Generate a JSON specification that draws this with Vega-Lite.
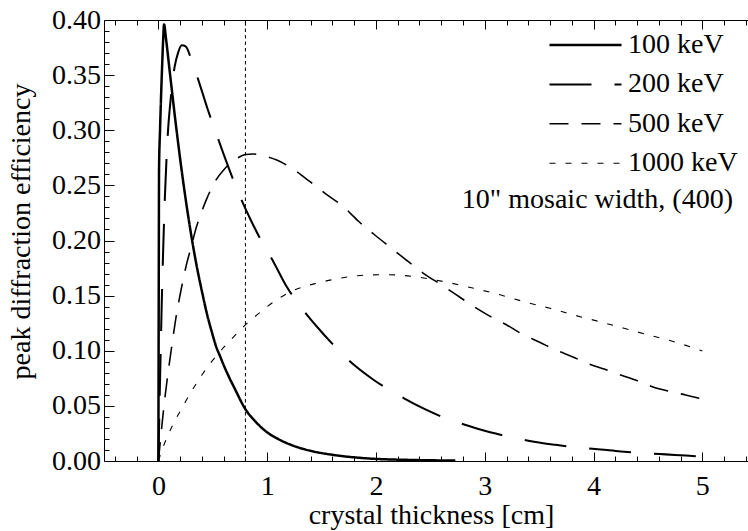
{
  "$schema": "https://vega.github.io/schema/vega-lite/v6.json",
  "width": 644,
  "height": 441,
  "autosize": {"type": "none"},
  "padding": {"left": 104, "top": 20, "right": 0, "bottom": 70},
  "background": "white",
  "config": {
    "view": {"stroke": null},
    "font": "Liberation Serif",
    "axis": {
      "grid": false,
      "domainColor": "#000",
      "domainWidth": 1,
      "tickColor": "#000",
      "tickWidth": 1,
      "labelColor": "#000",
      "titleColor": "#000",
      "labelFont": "Liberation Serif",
      "titleFont": "Liberation Serif",
      "labelFontSize": 28,
      "titleFontSize": 28,
      "titleFontWeight": "normal",
      "labelOverlap": false,
      "labelFlush": false
    },
    "legend": {
      "orient": "none",
      "legendX": 444,
      "legendY": 14,
      "padding": 0,
      "symbolType": "stroke",
      "symbolSize": 5184,
      "symbolStrokeColor": "black",
      "symbolOffset": 0,
      "labelFont": "Liberation Serif",
      "labelFontSize": 28,
      "labelColor": "black",
      "labelOffset": 5,
      "clipHeight": 22,
      "rowPadding": 11.4
    }
  },
  "datasets": {
    "curves": [
      {"energy": "100 keV", "t": 0, "eff": 0},
      {"energy": "100 keV", "t": 0.002, "eff": 0.1},
      {"energy": "100 keV", "t": 0.004, "eff": 0.19},
      {"energy": "100 keV", "t": 0.006, "eff": 0.265},
      {"energy": "100 keV", "t": 0.015, "eff": 0.3},
      {"energy": "100 keV", "t": 0.025, "eff": 0.332},
      {"energy": "100 keV", "t": 0.035, "eff": 0.36},
      {"energy": "100 keV", "t": 0.045, "eff": 0.385},
      {"energy": "100 keV", "t": 0.052, "eff": 0.396},
      {"energy": "100 keV", "t": 0.07, "eff": 0.383},
      {"energy": "100 keV", "t": 0.1, "eff": 0.357},
      {"energy": "100 keV", "t": 0.15, "eff": 0.314},
      {"energy": "100 keV", "t": 0.2, "eff": 0.274},
      {"energy": "100 keV", "t": 0.25, "eff": 0.238},
      {"energy": "100 keV", "t": 0.3, "eff": 0.206},
      {"energy": "100 keV", "t": 0.35, "eff": 0.178},
      {"energy": "100 keV", "t": 0.4, "eff": 0.154},
      {"energy": "100 keV", "t": 0.45, "eff": 0.132},
      {"energy": "100 keV", "t": 0.5, "eff": 0.114},
      {"energy": "100 keV", "t": 0.53, "eff": 0.104},
      {"energy": "100 keV", "t": 0.567, "eff": 0.095},
      {"energy": "100 keV", "t": 0.6, "eff": 0.087},
      {"energy": "100 keV", "t": 0.65, "eff": 0.076},
      {"energy": "100 keV", "t": 0.7, "eff": 0.066},
      {"energy": "100 keV", "t": 0.8, "eff": 0.047},
      {"energy": "100 keV", "t": 0.9, "eff": 0.035},
      {"energy": "100 keV", "t": 1.0, "eff": 0.026},
      {"energy": "100 keV", "t": 1.1, "eff": 0.02},
      {"energy": "100 keV", "t": 1.21, "eff": 0.015},
      {"energy": "100 keV", "t": 1.4, "eff": 0.0092},
      {"energy": "100 keV", "t": 1.61, "eff": 0.0055},
      {"energy": "100 keV", "t": 1.8, "eff": 0.0033},
      {"energy": "100 keV", "t": 1.98, "eff": 0.002},
      {"energy": "100 keV", "t": 2.3, "eff": 0.001},
      {"energy": "100 keV", "t": 2.73, "eff": 0.0004},
      {"energy": "200 keV", "t": 0, "eff": 0},
      {"energy": "200 keV", "t": 0.01, "eff": 0.05},
      {"energy": "200 keV", "t": 0.02, "eff": 0.095},
      {"energy": "200 keV", "t": 0.03, "eff": 0.14},
      {"energy": "200 keV", "t": 0.045, "eff": 0.195},
      {"energy": "200 keV", "t": 0.06, "eff": 0.24},
      {"energy": "200 keV", "t": 0.075, "eff": 0.275},
      {"energy": "200 keV", "t": 0.09, "eff": 0.302},
      {"energy": "200 keV", "t": 0.105, "eff": 0.32},
      {"energy": "200 keV", "t": 0.123, "eff": 0.338},
      {"energy": "200 keV", "t": 0.15, "eff": 0.358},
      {"energy": "200 keV", "t": 0.18, "eff": 0.37},
      {"energy": "200 keV", "t": 0.215, "eff": 0.377},
      {"energy": "200 keV", "t": 0.25, "eff": 0.376},
      {"energy": "200 keV", "t": 0.31, "eff": 0.362},
      {"energy": "200 keV", "t": 0.392, "eff": 0.338},
      {"energy": "200 keV", "t": 0.45, "eff": 0.32},
      {"energy": "200 keV", "t": 0.521, "eff": 0.3},
      {"energy": "200 keV", "t": 0.597, "eff": 0.279},
      {"energy": "200 keV", "t": 0.751, "eff": 0.2397},
      {"energy": "200 keV", "t": 0.849, "eff": 0.2186},
      {"energy": "200 keV", "t": 0.95, "eff": 0.199},
      {"energy": "200 keV", "t": 1.057, "eff": 0.1808},
      {"energy": "200 keV", "t": 1.18, "eff": 0.158},
      {"energy": "200 keV", "t": 1.3, "eff": 0.141},
      {"energy": "200 keV", "t": 1.456, "eff": 0.122},
      {"energy": "200 keV", "t": 1.654, "eff": 0.1007},
      {"energy": "200 keV", "t": 1.8, "eff": 0.087},
      {"energy": "200 keV", "t": 1.98, "eff": 0.0735},
      {"energy": "200 keV", "t": 2.258, "eff": 0.0569},
      {"energy": "200 keV", "t": 2.45, "eff": 0.047},
      {"energy": "200 keV", "t": 2.642, "eff": 0.0387},
      {"energy": "200 keV", "t": 2.856, "eff": 0.0317},
      {"energy": "200 keV", "t": 3.05, "eff": 0.026},
      {"energy": "200 keV", "t": 3.254, "eff": 0.0215},
      {"energy": "200 keV", "t": 3.453, "eff": 0.0175},
      {"energy": "200 keV", "t": 3.65, "eff": 0.0147},
      {"energy": "200 keV", "t": 3.867, "eff": 0.0121},
      {"energy": "200 keV", "t": 4.066, "eff": 0.0104},
      {"energy": "200 keV", "t": 4.25, "eff": 0.0087},
      {"energy": "200 keV", "t": 4.464, "eff": 0.0072},
      {"energy": "200 keV", "t": 4.664, "eff": 0.006},
      {"energy": "200 keV", "t": 4.85, "eff": 0.0049},
      {"energy": "200 keV", "t": 5.0, "eff": 0.0039},
      {"energy": "500 keV", "t": 0, "eff": 0},
      {"energy": "500 keV", "t": 0.015, "eff": 0.015},
      {"energy": "500 keV", "t": 0.031, "eff": 0.031},
      {"energy": "500 keV", "t": 0.046, "eff": 0.045},
      {"energy": "500 keV", "t": 0.062, "eff": 0.059},
      {"energy": "500 keV", "t": 0.077, "eff": 0.071},
      {"energy": "500 keV", "t": 0.1, "eff": 0.088},
      {"energy": "500 keV", "t": 0.117, "eff": 0.1},
      {"energy": "500 keV", "t": 0.14, "eff": 0.116},
      {"energy": "500 keV", "t": 0.163, "eff": 0.131},
      {"energy": "500 keV", "t": 0.2, "eff": 0.151},
      {"energy": "500 keV", "t": 0.26, "eff": 0.179},
      {"energy": "500 keV", "t": 0.307, "eff": 0.196},
      {"energy": "500 keV", "t": 0.337, "eff": 0.208},
      {"energy": "500 keV", "t": 0.39, "eff": 0.224},
      {"energy": "500 keV", "t": 0.445, "eff": 0.238},
      {"energy": "500 keV", "t": 0.53, "eff": 0.255},
      {"energy": "500 keV", "t": 0.6, "eff": 0.264},
      {"energy": "500 keV", "t": 0.66, "eff": 0.27},
      {"energy": "500 keV", "t": 0.73, "eff": 0.275},
      {"energy": "500 keV", "t": 0.8, "eff": 0.278},
      {"energy": "500 keV", "t": 0.87, "eff": 0.2785},
      {"energy": "500 keV", "t": 0.935, "eff": 0.2776},
      {"energy": "500 keV", "t": 1.0, "eff": 0.276},
      {"energy": "500 keV", "t": 1.088, "eff": 0.273},
      {"energy": "500 keV", "t": 1.241, "eff": 0.2646},
      {"energy": "500 keV", "t": 1.394, "eff": 0.2533},
      {"energy": "500 keV", "t": 1.532, "eff": 0.2428},
      {"energy": "500 keV", "t": 1.7, "eff": 0.2307},
      {"energy": "500 keV", "t": 1.845, "eff": 0.217},
      {"energy": "500 keV", "t": 1.99, "eff": 0.205},
      {"energy": "500 keV", "t": 2.136, "eff": 0.1935},
      {"energy": "500 keV", "t": 2.298, "eff": 0.1808},
      {"energy": "500 keV", "t": 2.45, "eff": 0.1693},
      {"energy": "500 keV", "t": 2.605, "eff": 0.1596},
      {"energy": "500 keV", "t": 2.74, "eff": 0.1506},
      {"energy": "500 keV", "t": 2.902, "eff": 0.14},
      {"energy": "500 keV", "t": 3.055, "eff": 0.1309},
      {"energy": "500 keV", "t": 3.202, "eff": 0.1234},
      {"energy": "500 keV", "t": 3.331, "eff": 0.1158},
      {"energy": "500 keV", "t": 3.505, "eff": 0.1077},
      {"energy": "500 keV", "t": 3.653, "eff": 0.1007},
      {"energy": "500 keV", "t": 3.805, "eff": 0.0946},
      {"energy": "500 keV", "t": 3.943, "eff": 0.0886},
      {"energy": "500 keV", "t": 4.097, "eff": 0.0834},
      {"energy": "500 keV", "t": 4.25, "eff": 0.078},
      {"energy": "500 keV", "t": 4.403, "eff": 0.0728},
      {"energy": "500 keV", "t": 4.54, "eff": 0.0674},
      {"energy": "500 keV", "t": 4.71, "eff": 0.0629},
      {"energy": "500 keV", "t": 4.847, "eff": 0.0599},
      {"energy": "500 keV", "t": 5.0, "eff": 0.0562},
      {"energy": "1000 keV", "t": 0, "eff": 0},
      {"energy": "1000 keV", "t": 0.03, "eff": 0.009},
      {"energy": "1000 keV", "t": 0.062, "eff": 0.0175},
      {"energy": "1000 keV", "t": 0.1, "eff": 0.026},
      {"energy": "1000 keV", "t": 0.132, "eff": 0.0327},
      {"energy": "1000 keV", "t": 0.163, "eff": 0.0387},
      {"energy": "1000 keV", "t": 0.206, "eff": 0.046},
      {"energy": "1000 keV", "t": 0.25, "eff": 0.054},
      {"energy": "1000 keV", "t": 0.3, "eff": 0.0625},
      {"energy": "1000 keV", "t": 0.35, "eff": 0.0705},
      {"energy": "1000 keV", "t": 0.4, "eff": 0.078},
      {"energy": "1000 keV", "t": 0.45, "eff": 0.085},
      {"energy": "1000 keV", "t": 0.5, "eff": 0.0915},
      {"energy": "1000 keV", "t": 0.6, "eff": 0.103},
      {"energy": "1000 keV", "t": 0.7, "eff": 0.1135},
      {"energy": "1000 keV", "t": 0.8, "eff": 0.1235},
      {"energy": "1000 keV", "t": 0.9, "eff": 0.132},
      {"energy": "1000 keV", "t": 1.0, "eff": 0.14},
      {"energy": "1000 keV", "t": 1.1, "eff": 0.147},
      {"energy": "1000 keV", "t": 1.208, "eff": 0.1532},
      {"energy": "1000 keV", "t": 1.33, "eff": 0.158},
      {"energy": "1000 keV", "t": 1.456, "eff": 0.1612},
      {"energy": "1000 keV", "t": 1.6, "eff": 0.1645},
      {"energy": "1000 keV", "t": 1.762, "eff": 0.1672},
      {"energy": "1000 keV", "t": 1.93, "eff": 0.1687},
      {"energy": "1000 keV", "t": 2.1, "eff": 0.169},
      {"energy": "1000 keV", "t": 2.25, "eff": 0.1683},
      {"energy": "1000 keV", "t": 2.44, "eff": 0.166},
      {"energy": "1000 keV", "t": 2.66, "eff": 0.162},
      {"energy": "1000 keV", "t": 2.9, "eff": 0.1566},
      {"energy": "1000 keV", "t": 3.13, "eff": 0.151},
      {"energy": "1000 keV", "t": 3.361, "eff": 0.1445},
      {"energy": "1000 keV", "t": 3.6, "eff": 0.1385},
      {"energy": "1000 keV", "t": 3.82, "eff": 0.1324},
      {"energy": "1000 keV", "t": 4.05, "eff": 0.1265},
      {"energy": "1000 keV", "t": 4.28, "eff": 0.1204},
      {"energy": "1000 keV", "t": 4.5, "eff": 0.1145},
      {"energy": "1000 keV", "t": 4.74, "eff": 0.1082},
      {"energy": "1000 keV", "t": 5.0, "eff": 0.0998}
    ],
    "marker": [{"thickness": 0.8}],
    "note": [{"label": "10\" mosaic width, (400)"}]
  },
  "resolve": {"axis": {"x": "independent", "y": "independent"}},
  "layer": [
    {
      "data": {"name": "curves"},
      "mark": {"type": "line", "color": "black", "interpolate": "monotone", "clip": true},
      "encoding": {
        "x": {
          "field": "t", "type": "quantitative",
          "scale": {"domain": [-0.5, 5.42], "nice": false, "zero": false},
          "axis": {
            "orient": "bottom",
            "values": [-0.4,-0.2,0,0.2,0.4,0.6,0.8,1,1.2,1.4,1.6,1.8,2,2.2,2.4,2.6,2.8,3,3.2,3.4,3.6,3.8,4,4.2,4.4,4.6,4.8,5,5.2,5.4],
            "tickSize": {"condition": {"test": "abs(datum.value - round(datum.value)) < 0.001", "value": -9}, "value": -5},
            "labelExpr": "abs(datum.value - round(datum.value)) < 0.001 ? format(datum.value, 'd') : ''",
            "labelPadding": 20,
            "title": "crystal thickness [cm]",
            "titlePadding": -3,
            "titleX": 327
          }
        },
        "y": {
          "field": "eff", "type": "quantitative",
          "scale": {"domain": [0, 0.4], "nice": false},
          "axis": {
            "orient": "left",
            "values": [0,0.01,0.02,0.03,0.04,0.05,0.06,0.07,0.08,0.09,0.1,0.11,0.12,0.13,0.14,0.15,0.16,0.17,0.18,0.19,0.2,0.21,0.22,0.23,0.24,0.25,0.26,0.27,0.28,0.29,0.3,0.31,0.32,0.33,0.34,0.35,0.36,0.37,0.38,0.39,0.4],
            "tickSize": {"condition": {"test": "abs(datum.value * 20 - round(datum.value * 20)) < 0.001", "value": -10}, "value": -5},
            "labelExpr": "abs(datum.value * 20 - round(datum.value * 20)) < 0.001 ? format(datum.value, '.2f') : ''",
            "labelPadding": 13.5,
            "title": "peak diffraction efficiency",
            "titlePadding": 16,
            "titleY": 211
          }
        },
        "strokeDash": {
          "field": "energy", "type": "nominal",
          "scale": {"domain": ["100 keV", "200 keV", "500 keV", "1000 keV"], "range": [[1, 0], [42, 23], [19, 13], [6, 10]]},
          "legend": {"title": null}
        },
        "strokeWidth": {
          "field": "energy", "type": "nominal",
          "scale": {"domain": ["100 keV", "200 keV", "500 keV", "1000 keV"], "range": [2.5, 1.1, 1.2, 1.1]},
          "legend": {"title": null}
        }
      }
    },
    {
      "data": {"name": "marker"},
      "mark": {"type": "rule", "color": "black", "strokeWidth": 1, "strokeDash": [3.5, 3]},
      "encoding": {
        "x": {
          "field": "thickness", "type": "quantitative",
          "axis": {
            "orient": "top",
            "values": [-0.4,-0.2,0,0.2,0.4,0.6,0.8,1,1.2,1.4,1.6,1.8,2,2.2,2.4,2.6,2.8,3,3.2,3.4,3.6,3.8,4,4.2,4.4,4.6,4.8,5,5.2,5.4],
            "tickSize": {"condition": {"test": "abs(datum.value - round(datum.value)) < 0.001", "value": -9}, "value": -5},
            "labels": false,
            "title": null
          }
        },
        "y": {"datum": 0, "type": "quantitative", "axis": null},
        "y2": {"datum": 0.4}
      }
    },
    {
      "data": {"name": "note"},
      "mark": {"type": "text", "align": "right", "baseline": "middle", "font": "Liberation Serif", "fontSize": 28, "color": "black"},
      "encoding": {
        "x": {"datum": 5.282, "type": "quantitative", "axis": null},
        "y": {"datum": 0.2367, "type": "quantitative", "axis": null},
        "text": {"field": "label", "type": "nominal"}
      }
    }
  ]
}
